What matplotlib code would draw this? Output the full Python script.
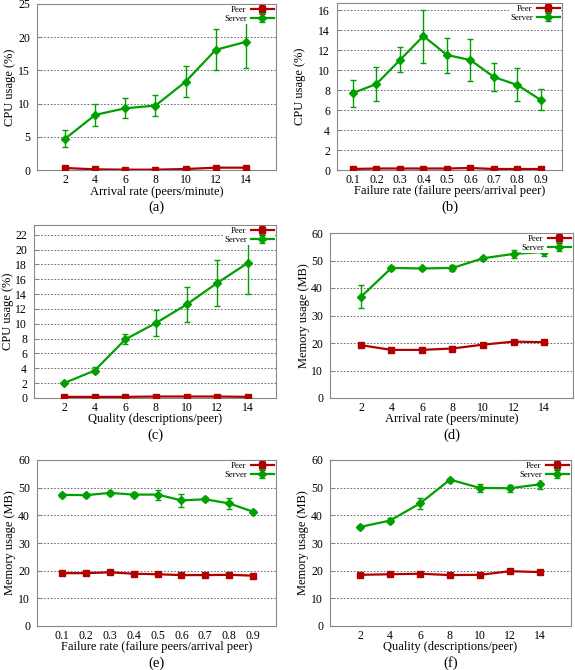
import matplotlib
matplotlib.use("Agg")
import matplotlib.pyplot as plt
import numpy as np

plt.rcParams['font.family'] = ['Liberation Serif', 'DejaVu Serif']

# ---- data ----
rate = [2, 4, 6, 8, 10, 12, 14]
fail = [0.1, 0.2, 0.3, 0.4, 0.5, 0.6, 0.7, 0.8, 0.9]
quality = [2, 4, 6, 8, 10, 12, 14]

# (a) CPU vs arrival rate
a_server = [4.7, 8.3, 9.3, 9.7, 13.3, 18.1, 19.3]
a_server_lo = [3.5, 6.7, 7.9, 8.2, 11.0, 15.1, 15.4]
a_server_hi = [6.0, 9.9, 10.8, 11.3, 15.7, 21.2, 23.3]
a_peer = [0.3, 0.1, 0.05, 0.05, 0.15, 0.35, 0.35]

# (b) CPU vs failure rate
b_server = [7.7, 8.6, 11.0, 13.4, 11.5, 11.0, 9.3, 8.5, 7.0]
b_server_lo = [6.3, 6.9, 9.8, 10.7, 9.7, 8.9, 7.9, 6.9, 6.0]
b_server_hi = [9.0, 10.3, 12.3, 16.0, 13.2, 13.1, 10.7, 10.2, 8.1]
b_peer = [0.1, 0.15, 0.15, 0.15, 0.15, 0.2, 0.1, 0.1, 0.1]

# (c) CPU vs quality
c_server = [2.0, 3.7, 7.9, 10.1, 12.6, 15.5, 18.2]
c_server_lo = [1.9, 3.3, 7.3, 8.4, 10.3, 12.4, 14.0]
c_server_hi = [2.1, 4.2, 8.6, 11.8, 15.0, 18.6, 22.4]
c_peer = [0.15, 0.15, 0.15, 0.2, 0.2, 0.2, 0.15]

# (d) Memory vs arrival rate
d_server = [36.8, 47.3, 47.1, 47.3, 50.8, 52.4, 53.1]
d_server_lo = [32.7, 46.6, 46.6, 46.1, 50.2, 51.0, 51.7]
d_server_hi = [41.1, 48.0, 47.6, 48.5, 51.4, 54.0, 54.6]
d_peer = [19.2, 17.5, 17.5, 18.0, 19.4, 20.5, 20.3]

# (e) Memory vs failure rate
e_server = [47.4, 47.3, 48.1, 47.5, 47.5, 45.4, 45.8, 44.3, 41.3]
e_server_lo = [46.8, 46.7, 47.4, 46.7, 45.7, 43.0, 45.1, 42.3, 40.7]
e_server_hi = [48.0, 47.9, 48.8, 48.3, 49.3, 47.8, 46.5, 46.2, 41.9]
e_peer = [19.1, 19.1, 19.4, 18.9, 18.7, 18.4, 18.4, 18.5, 18.2]

# (f) Memory vs quality
f_server = [35.8, 38.1, 44.3, 52.9, 49.9, 49.8, 51.2]
f_server_lo = [35.0, 37.1, 42.2, 52.2, 48.6, 48.6, 49.5]
f_server_hi = [36.6, 39.1, 46.4, 53.6, 51.2, 51.0, 53.0]
f_peer = [18.5, 18.7, 18.9, 18.4, 18.5, 19.8, 19.5]

PEER = '#b00000'
SERVER = '#00a000'
W, H = 575, 670

fig = plt.figure(figsize=(W / 100, H / 100), dpi=100)


def add_ax(left, right, top, bottom):
    return fig.add_axes([left / W, 1 - bottom / H, (right - left) / W, (bottom - top) / H])


def ftext(xp, yp, s, **kw):
    fig.text(xp / W, 1 - yp / H, s, ha='center', va='center', **kw)


panels = [
    dict(box=(37, 276, 4, 170), x=rate, s=a_server, lo=a_server_lo, hi=a_server_hi, p=a_peer,
         xlim=(0.14, 16.0), ylim=(0, 25), yt=np.arange(0, 26, 5), xt=rate,
         xl='Arrival rate (peers/minute)', yl='CPU usage (%)', tag='(a)', xfmt=None,
         ylx=10, xly=192, tagy=207),
    dict(box=(337, 562, 3, 170), x=fail, s=b_server, lo=b_server_lo, hi=b_server_hi, p=b_peer,
         xlim=(0.032, 0.99), ylim=(0, 16.7), yt=np.arange(0, 17, 2), xt=fail,
         xl='Failure rate (failure peers/arrival peer)', yl='CPU usage (%)', tag='(b)', xfmt='%.1f',
         ylx=300, xly=191, tagy=207),
    dict(box=(34, 276, 225, 398), x=quality, s=c_server, lo=c_server_lo, hi=c_server_hi, p=c_peer,
         xlim=(0.04, 15.83), ylim=(0, 23.3), yt=np.arange(0, 23, 2), xt=quality,
         xl='Quality (descriptions/peer)', yl='CPU usage (%)', tag='(c)', xfmt=None,
         ylx=8, xly=419, tagy=435),
    dict(box=(330, 573, 233, 398), x=rate, s=d_server, lo=d_server_lo, hi=d_server_hi, p=d_peer,
         xlim=(-0.03, 15.9), ylim=(0, 60), yt=np.arange(0, 61, 10), xt=rate,
         xl='Arrival rate (peers/minute)', yl='Memory usage (MB)', tag='(d)', xfmt=None,
         ylx=304, xly=419, tagy=435),
    dict(box=(37, 276, 460, 626), x=fail, s=e_server, lo=e_server_lo, hi=e_server_hi, p=e_peer,
         xlim=(-0.005, 0.996), ylim=(0, 60), yt=np.arange(0, 61, 10), xt=fail,
         xl='Failure rate (failure peers/arrival peer)', yl='Memory usage (MB)', tag='(e)', xfmt='%.1f',
         ylx=10, xly=647, tagy=663),
    dict(box=(330, 571, 460, 626), x=quality, s=f_server, lo=f_server_lo, hi=f_server_hi, p=f_peer,
         xlim=(0.0, 16.07), ylim=(0, 60), yt=np.arange(0, 61, 10), xt=quality,
         xl='Quality (descriptions/peer)', yl='Memory usage (MB)', tag='(f)', xfmt=None,
         ylx=303, xly=647, tagy=663),
]

for P in panels:
    ax = add_ax(*P['box'])
    x = np.array(P['x'])
    s = np.array(P['s'])
    yerr = np.vstack([s - np.array(P['lo']), np.array(P['hi']) - s])
    p = np.array(P['p'])
    perr = np.full_like(p, 0.15) if P['ylim'][1] < 30 else np.full_like(p, 0.4)
    ax.errorbar(x, p, yerr=perr, color=PEER, lw=1.6, marker='s', ms=4,
                capsize=2, elinewidth=1.0, label='Peer', zorder=3)
    ax.errorbar(x, s, yerr=yerr, color=SERVER, lw=1.6, marker='D', ms=4,
                capsize=2, elinewidth=1.0, label='Server', zorder=3)
    ax.set_xlim(*P['xlim'])
    ax.set_ylim(*P['ylim'])
    ax.set_yticks(P['yt'])
    ax.set_xticks(P['xt'])
    if P['xfmt']:
        ax.set_xticklabels([P['xfmt'] % v for v in P['xt']])
    ax.yaxis.grid(True, linestyle=(0, (2, 2)), color='#555555', lw=0.6)
    ax.set_axisbelow(True)
    for sp in ax.spines.values():
        sp.set_color('#888888')
        sp.set_linewidth(0.8)
    ax.tick_params(axis='both', labelsize=8.5, length=3, color='#888888', direction='in', pad=5)
    ax.tick_params(axis='x', length=0, pad=3)
    left, right, top, bottom = P['box']
    ftext((left + right) / 2, P['xly'], P['xl'], fontsize=9)
    ftext((left + right) / 2, P['tagy'], P['tag'], fontsize=10.5)
    ftext(P['ylx'], (top + bottom) / 2, P['yl'], fontsize=9, rotation=90)
    leg = ax.legend(loc='upper right', fontsize=6.3, frameon=True, markerfirst=False,
                    handlelength=2.6, borderpad=0.1, labelspacing=0.05, handletextpad=0.5,
                    borderaxespad=0.15)
    leg.get_frame().set_edgecolor('none')
    leg.get_frame().set_facecolor('white')
    leg.get_frame().set_alpha(1)

fig.savefig('out.png', dpi=100)
